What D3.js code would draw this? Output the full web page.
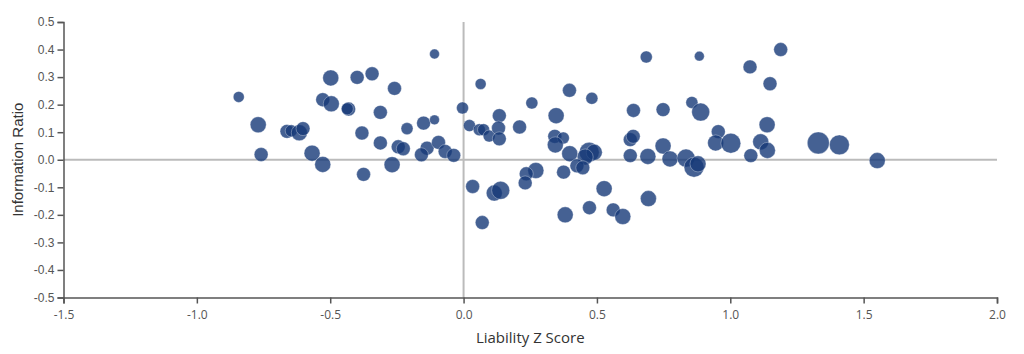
<!DOCTYPE html>
<html>
<head>
<meta charset="utf-8">
<script src="https://cdnjs.cloudflare.com/ajax/libs/d3/7.8.5/d3.min.js"></script>
<style>
  body { margin: 0; background: #fff; }
  .axis path, .axis line { stroke: #555; stroke-width: 1.5; }
  .axis text { fill: #555; font-size: 12px; }
  .y-axis text { font-family: "Liberation Sans", Arial, sans-serif; }
  .x-axis text { font-family: "Open Sans", sans-serif; }
  .zero-line { stroke: #bbb; stroke-width: 2; }
  .bubble { fill: #163a78; fill-opacity: 0.8; stroke: #fff; stroke-opacity: 0.4; stroke-width: 0.8; }
  .axis-title { fill: #333; font-size: 15px; }
</style>
</head>
<body>
<div id="chart"></div>
<script>
// Liability Z Score per fund
var zScores = [
  -0.843, -0.770, -0.759, -0.662, -0.646, -0.616, -0.602, -0.568, -0.528, -0.498,
  -0.528, -0.496, -0.399, -0.431, -0.436, -0.343, -0.381, -0.375, -0.259, -0.312,
  -0.212, -0.150, -0.109, -0.109, -0.004, -0.312, -0.245, -0.226, -0.137, -0.158,
  -0.094, -0.069, -0.037, -0.268, 0.064, 0.022, 0.059, 0.075, 0.096, 0.134,
  0.131, 0.134, 0.034, 0.115, 0.139, 0.070, 0.397, 0.481, 0.256, 0.347,
  0.210, 0.637, 0.342, 0.374, 0.344, 0.398, 0.471, 0.490, 0.456, 0.425,
  0.447, 0.375, 0.625, 0.636, 0.625, 0.271, 0.235, 0.231, 0.527, 0.381,
  0.472, 0.561, 0.597, 0.685, 0.884, 1.074, 1.189, 1.149, 0.748, 0.856,
  0.889, 0.691, 0.748, 0.774, 0.834, 0.864, 0.879, 0.955, 0.945, 1.002,
  1.138, 1.114, 1.139, 1.077, 1.330, 1.409, 1.551, 0.693
];

// Information Ratio per fund
var infoRatios = [
  0.228, 0.127, 0.019, 0.103, 0.105, 0.098, 0.113, 0.024, -0.017, 0.297,
  0.218, 0.203, 0.299, 0.184, 0.185, 0.312, 0.097, -0.053, 0.259, 0.172,
  0.113, 0.133, 0.145, 0.384, 0.188, 0.061, 0.047, 0.040, 0.042, 0.018,
  0.063, 0.030, 0.016, -0.018, 0.275, 0.124, 0.109, 0.109, 0.086, 0.160,
  0.115, 0.076, -0.097, -0.121, -0.111, -0.228, 0.252, 0.223, 0.206, 0.160,
  0.119, 0.179, 0.085, 0.079, 0.054, 0.022, 0.027, 0.027, 0.010, -0.022,
  -0.029, -0.045, 0.073, 0.085, 0.015, -0.039, -0.051, -0.084, -0.105, -0.200,
  -0.174, -0.182, -0.206, 0.373, 0.376, 0.337, 0.400, 0.276, 0.182, 0.208,
  0.173, 0.012, 0.050, 0.003, 0.006, -0.027, -0.015, 0.102, 0.061, 0.060,
  0.127, 0.065, 0.034, 0.015, 0.061, 0.054, -0.003, -0.141
];

// bubble size (fund weight)
var weights = [
  25, 53, 40, 40, 30, 53, 40, 53, 53, 53,
  40, 53, 40, 40, 30, 40, 40, 40, 40, 40,
  30, 40, 20, 20, 30, 40, 40, 40, 40, 40,
  40, 40, 40, 53, 25, 30, 30, 30, 30, 40,
  40, 40, 40, 53, 67, 40, 40, 30, 30, 53,
  40, 40, 40, 30, 53, 53, 82, 53, 53, 40,
  40, 40, 40, 40, 40, 53, 40, 40, 53, 53,
  40, 40, 53, 30, 20, 40, 40, 40, 40, 30,
  67, 53, 53, 53, 67, 82, 53, 40, 53, 82,
  53, 53, 53, 40, 100, 82, 53, 53
];

var xTicks = [-1.5, -1.0, -0.5, 0.0, 0.5, 1.0, 1.5, 2.0];
var yTicks = [-0.5, -0.4, -0.3, -0.2, -0.1, 0.0, 0.1, 0.2, 0.3, 0.4, 0.5];

var data = zScores.map(function(d, i) {
    return { z: d, ir: infoRatios[i], w: weights[i] };
});

var margin = { top: 22, right: 27, bottom: 56.5, left: 63.5 };
var width = 1024 - margin.left - margin.right,
    height = 354 - margin.top - margin.bottom;

// plain hyphen for negatives, like the original
var fmt = function(d) { return d.toFixed(1); };

var svg = d3.select("#chart").append("svg")
    .attr("width", 1024)
    .attr("height", 354)
    .append("g")
    .attr("transform", "translate(" + margin.left + "," + margin.top + ")");

var x = d3.scaleLinear().domain([-1.5, 2.0]).range([0, width]);
var y = d3.scaleLinear().domain([-0.5, 0.5]).range([height, 0]);
var r = d3.scaleSqrt().domain([0, 100]).range([0, 11]);

// zero lines
svg.append("line")
    .attr("class", "zero-line")
    .attr("x1", 0).attr("x2", width)
    .attr("y1", y(0)).attr("y2", y(0));

svg.append("line")
    .attr("class", "zero-line")
    .attr("x1", x(0)).attr("x2", x(0))
    .attr("y1", 0).attr("y2", height);

// bubbles
svg.append("g").selectAll("circle")
    .data(data)
    .enter()
    .append("circle")
    .attr("class", "bubble")
    .attr("cx", function(d) { return x(d.z); })
    .attr("cy", function(d) { return y(d.ir); })
    .attr("r", function(d) { return r(d.w); });

// axes
svg.append("g")
    .attr("class", "x-axis axis")
    .attr("transform", "translate(0," + height + ")")
    .call(d3.axisBottom(x).tickValues(xTicks).tickFormat(fmt).tickSizeOuter(6))
    .selectAll("text").attr("dy", "1.0em");

svg.append("g")
    .attr("class", "y-axis axis")
    .call(d3.axisLeft(y).tickValues(yTicks).tickFormat(fmt).tickSizeOuter(6));

svg.append("text")
    .attr("class", "axis-title")
    .attr("x", width / 2)
    .attr("y", height + 45)
    .attr("text-anchor", "middle")
    .style("font-family", "'Open Sans', sans-serif")
    .text("Liability Z Score");

svg.append("text")
    .attr("class", "axis-title")
    .attr("transform", "rotate(-90)")
    .attr("x", -height / 2)
    .attr("y", -41)
    .attr("text-anchor", "middle")
    .style("font-family", "'Liberation Sans', Arial, sans-serif")
    .text("Information Ratio");
</script>
</body>
</html>
